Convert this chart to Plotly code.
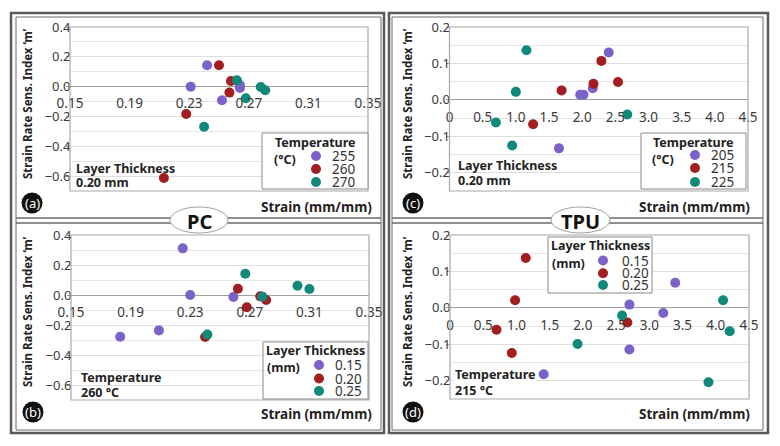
import plotly.graph_objects as go

W, H = 780, 446
FONT = "Noto Sans, Open Sans, sans-serif"

# ---------------- data ----------------
# (a) PC, layer thickness 0.20 mm, by temperature
pc_t255_x = [0.242, 0.231, 0.252, 0.264, 0.264]
pc_t255_y = [0.144, 0.000, -0.091, 0.011, -0.009]
pc_t260_x = [0.250, 0.258, 0.257, 0.228, 0.213]
pc_t260_y = [0.144, 0.038, -0.040, -0.184, -0.613]
pc_t270_x = [0.262, 0.268, 0.278, 0.281, 0.240]
pc_t270_y = [0.042, -0.078, -0.002, -0.024, -0.269]

# (b) PC, temperature 260 C, by layer thickness
pc_l015_x = [0.225, 0.230, 0.259, 0.209, 0.183]
pc_l015_y = [0.311, 0.000, -0.013, -0.236, -0.278]
pc_l020_x = [0.262, 0.268, 0.277, 0.281, 0.240]
pc_l020_y = [0.042, -0.082, -0.009, -0.033, -0.280]
pc_l025_x = [0.267, 0.2785, 0.302, 0.310, 0.2415]
pc_l025_y = [0.142, -0.011, 0.062, 0.040, -0.264]

# (c) TPU, layer thickness 0.20 mm, by temperature
tpu_t205_x = [2.40, 2.16, 1.97, 2.02, 1.65]
tpu_t205_y = [0.130, 0.032, 0.014, 0.014, -0.133]
tpu_t215_x = [2.29, 2.54, 2.17, 1.69, 1.26]
tpu_t215_y = [0.107, 0.049, 0.044, 0.026, -0.067]
tpu_t225_x = [1.16, 1.00, 2.68, 0.70, 0.945]
tpu_t225_y = [0.136, 0.022, -0.040, -0.062, -0.125]

# (d) TPU, temperature 215 C, by layer thickness
tpu_l015_x = [3.39, 2.70, 3.21, 2.70, 1.41]
tpu_l015_y = [0.069, 0.009, -0.014, -0.114, -0.182]
tpu_l020_x = [1.14, 0.98, 0.70, 0.93, 2.67]
tpu_l020_y = [0.137, 0.021, -0.060, -0.124, -0.040]
tpu_l025_x = [4.11, 4.21, 2.59, 1.92, 3.89]
tpu_l025_y = [0.021, -0.064, -0.021, -0.099, -0.204]

temp_pc_labels = ["255", "260", "270"]
temp_tpu_labels = ["205", "215", "225"]
layer_labels = ["0.15", "0.20", "0.25"]

pc_x_ticks = [0.15, 0.19, 0.23, 0.27, 0.31, 0.35]
pc_y_ticks = [0.4, 0.2, 0.0, -0.2, -0.4, -0.6]
tpu_x_ticks = [0, 0.5, 1.0, 1.5, 2.0, 2.5, 3.0, 3.5, 4.0, 4.5]
tpu_x_ticktext = ["0", "0.5", "1.0", "1.5", "2.0", "2.5", "3.0", "3.5", "4.0", "4.5"]
tpu_y_ticks = [0.2, 0.1, 0.0, -0.1, -0.2]

COLORS = ["#7A62C8", "#A21E20", "#11897A"]


def px(x):
    return x / W


def py(y):
    return 1 - y / H


def fmt_signed(v, nd):
    s = f"{abs(v):.{nd}f}"
    return ("\u2212" + s) if v < 0 else s


fig = go.Figure()

panels = [
    ("x", "y", [(pc_t255_x, pc_t255_y), (pc_t260_x, pc_t260_y), (pc_t270_x, pc_t270_y)], temp_pc_labels),
    ("x2", "y2", [(tpu_t205_x, tpu_t205_y), (tpu_t215_x, tpu_t215_y), (tpu_t225_x, tpu_t225_y)], temp_tpu_labels),
    ("x3", "y3", [(pc_l015_x, pc_l015_y), (pc_l020_x, pc_l020_y), (pc_l025_x, pc_l025_y)], layer_labels),
    ("x4", "y4", [(tpu_l015_x, tpu_l015_y), (tpu_l020_x, tpu_l020_y), (tpu_l025_x, tpu_l025_y)], layer_labels),
]
for xa, ya, series, names in panels:
    for (xs, ys), c, n in zip(series, COLORS, names):
        fig.add_trace(go.Scatter(x=xs, y=ys, mode="markers", name=n, xaxis=xa, yaxis=ya,
                                 showlegend=False,
                                 marker=dict(size=10, color=c, line=dict(width=0))))

# domains in pixels (x0, x1, ytop, ybottom)
dom = {
    1: (70, 368, 27, 191),
    2: (449.5, 748, 27, 191),
    3: (71, 369, 235, 400),
    4: (450, 749, 235, 399),
}
is_pc = {1: True, 2: False, 3: True, 4: False}

layout_axes = {}
for i in range(1, 5):
    x0, x1, yt, yb = dom[i]
    xd = [px(x0), px(x1)]
    yd = [py(yb), py(yt)]
    if is_pc[i]:
        yr = [-0.7, 0.4]
        ymin = 0.1
        yt_vals = pc_y_ticks
        xr = [0.15, 0.35]
        xt = dict(tickmode="array", tickvals=pc_x_ticks, ticktext=[f"{v:.2f}" for v in pc_x_ticks])
        stand = 7
    else:
        yr = [-0.25, 0.2]
        ymin = 0.05
        yt_vals = tpu_y_ticks
        xr = [0, 4.5]
        xt = dict(tickmode="array", tickvals=tpu_x_ticks, ticktext=tpu_x_ticktext)
        stand = 8
    frac0 = (0 - yr[0]) / (yr[1] - yr[0])
    pos = yd[0] + frac0 * (yd[1] - yd[0])
    sfx = "" if i == 1 else str(i)
    layout_axes["xaxis" + sfx] = dict(
        domain=xd, range=xr, anchor="free", position=pos, showgrid=False, zeroline=False,
        showline=False, ticks="", ticklabelstandoff=stand, automargin=False,
        tickfont=dict(family=FONT, size=13.5, color="#3a3a3a"), **xt)
    layout_axes["yaxis" + sfx] = dict(
        domain=yd, range=yr, anchor="x" + ("" if i == 1 else str(i)),
        tickmode="array", tickvals=yt_vals, ticktext=[fmt_signed(v, 1) for v in yt_vals],
        showgrid=True, gridcolor="#dedede", gridwidth=1, automargin=False,
        minor=dict(dtick=ymin, tick0=0, showgrid=True, gridcolor="#e6e6e6", gridwidth=1),
        zeroline=True, zerolinecolor="#a0a0a0", zerolinewidth=1.2,
        showline=False, ticks="outside", ticklen=3, tickcolor="#9a9a9a", ticklabelstandoff=-7,
        tickfont=dict(family=FONT, size=13, color="#3a3a3a"))

shapes = []
annotations = []


def rect(x0, y0, x1, y1, color, width, fill="rgba(0,0,0,0)", layer="above"):
    shapes.append(dict(type="rect", xref="paper", yref="paper", x0=px(x0), x1=px(x1), y0=py(y1), y1=py(y0),
                       line=dict(color=color, width=width), fillcolor=fill, layer=layer))


def line(x0, y0, x1, y1, color, width):
    shapes.append(dict(type="line", xref="paper", yref="paper", x0=px(x0), x1=px(x1), y0=py(y0), y1=py(y1),
                       line=dict(color=color, width=width)))


def circle(cx, cy, r, fill, color=None, width=0):
    shapes.append(dict(type="circle", xref="paper", yref="paper", x0=px(cx - r), x1=px(cx + r),
                       y0=py(cy + r), y1=py(cy - r), fillcolor=fill,
                       line=dict(color=color if color else fill, width=width), layer="above"))


def text(t, x, y, size=13.5, bold=False, xanchor="center", color="#222", angle=0, bg="rgba(0,0,0,0)"):
    annotations.append(dict(text=f"<b>{t}</b>" if bold else t, x=px(x), y=py(y), xref="paper", yref="paper",
                            showarrow=False, xanchor=xanchor, yanchor="middle", textangle=angle,
                            font=dict(family=FONT, size=size, color=color), bgcolor=bg, borderpad=0))


# plot area borders
for i in range(1, 5):
    sfx = "" if i == 1 else str(i)
    shapes.append(dict(type="rect", xref=f"x{sfx} domain", yref=f"y{sfx} domain", x0=0, x1=1, y0=0, y1=1,
                       line=dict(color="#a8a8a8", width=1.2), layer="above"))

# outer frames
rect(11, 13, 384, 433, "#5a5a5a", 2.5)
rect(16, 17, 381, 430, "#6a6a6a", 1)
rect(389, 13, 768, 433, "#5a5a5a", 2.5)
rect(392, 17, 763, 430, "#6a6a6a", 1)
for x0, x1 in [(16, 381), (392, 763)]:
    line(x0, 218, x1, 218, "#6a6a6a", 1.3)
    line(x0, 223, x1, 223, "#6a6a6a", 1.3)

# material ellipses
shapes.append(dict(type="circle", xref="paper", yref="paper", x0=px(170), x1=px(228), y0=py(233), y1=py(207),
                   fillcolor="white", line=dict(color="#a0a0a0", width=1), layer="above"))
shapes.append(dict(type="circle", xref="paper", yref="paper", x0=px(551), x1=px(610), y0=py(233), y1=py(207),
                   fillcolor="white", line=dict(color="#a0a0a0", width=1), layer="above"))
text("PC", 199, 221, size=20, bold=True, color="#111")
text("TPU", 580.5, 221, size=20, bold=True, color="#111")

# panel letters
for lab, cx, cy in [("(a)", 32, 203), ("(c)", 413, 203), ("(b)", 33, 412), ("(d)", 413, 412)]:
    circle(cx, cy, 10.5, "#111111")
    text(lab, cx, cy, size=13, color="white")

# axis titles
for cx, cy in [(27, 104), (407, 104), (27, 312), (407, 312)]:
    text("Strain Rate Sens. Index ‘m’", cx, cy, size=11.5, bold=True, angle=-90)
for rx, cy in [(373, 207), (751, 207), (373, 414), (751, 414)]:
    text("Strain (mm/mm)", rx, cy, size=13.5, bold=True, xanchor="right")

# condition notes
NS = 12.5
text("Layer Thickness", 75, 168, size=NS, bold=True, xanchor="left")
text("0.20 mm", 75, 182, size=NS, bold=True, xanchor="left")
text("Layer Thickness", 456.5, 166, size=NS, bold=True, xanchor="left")
text("0.20 mm", 456.5, 181, size=NS, bold=True, xanchor="left")
text("Temperature", 80, 377, size=NS, bold=True, xanchor="left")
text("260 °C", 80, 392.5, size=NS, bold=True, xanchor="left")
text("Temperature", 454, 374, size=NS, bold=True, xanchor="left", bg="white")
text("215 °C", 454, 390.5, size=NS, bold=True, xanchor="left")

# legends (box, title, unit, swatches, labels)
legends = [
    (262, 133, 368, 189, "Temperature", 315, 142, "(°C)", 285, 160, 316, [156, 169, 182], 343, temp_pc_labels),
    (641, 133, 746, 189, "Temperature", 693, 142, "(°C)", 663, 160, 695, [155, 168, 182], 722, temp_tpu_labels),
    (263, 342, 368, 399, "Layer Thickness", 315, 350, "(mm)", 283, 367, 319, [365, 378.5, 391], 348, layer_labels),
    (548, 237, 652, 293, "Layer Thickness", 600, 245, "(mm)", 568, 263, 603, [260.5, 273.3, 285], 635, layer_labels),
]
for (bx0, by0, bx1, by1, title, tx, ty, unit, ux, uy, mx, mys, lx, labs) in legends:
    rect(bx0, by0, bx1, by1, "#8a8a8a", 1, fill="white")
    text(title, tx, ty, size=NS, bold=True)
    text(unit, ux, uy, size=NS, bold=True)
    for c, my, lab in zip(COLORS, mys, labs):
        circle(mx, my, 5, c)
        text(lab, lx, my, size=13.5, color="#333")

fig.update_layout(
    width=W, height=H, margin=dict(l=0, r=0, t=0, b=0, autoexpand=False),
    paper_bgcolor="white", plot_bgcolor="white", showlegend=False,
    shapes=shapes, annotations=annotations, **layout_axes)

fig.write_html("out.html", config={"displayModeBar": False},
               post_script="document.body.style.margin='0';document.body.style.padding='0';")
